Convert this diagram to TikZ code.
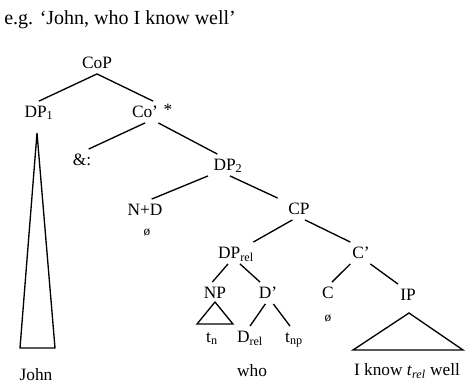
\documentclass[tikz,border=0pt]{standalone}
\usepackage{fontspec}
\setmainfont{Liberation Serif}
\usetikzlibrary{positioning}
\tikzset{
  lab/.style={font=\fontsize{13}{15}\selectfont, inner sep=3pt, text height=9pt, text depth=1pt},
  word/.style={font=\fontsize{13}{15}\selectfont, inner sep=1pt},
  nulllab/.style={font=\fontsize{10}{12}\selectfont, inner sep=1pt},
  branch/.style={line width=1pt, draw=black},
}

\begin{document}
\begin{tikzpicture}[x=0.75pt,y=-0.75pt]
\path[use as bounding box] (0,0) rectangle (467,383);

% title
\node[anchor=west,inner sep=0pt,font=\fontsize{15}{18}\selectfont] (title) at (4,20) {e.g. ‘John, who I know well’};

% upper tree
\node[lab] (cop) at (97,63) {CoP};
\node[lab] (dp1) at (39,112) {DP\textsubscript{1}};
\node[lab] (co) at (145,112) {Co’};
\node[lab,inner sep=0pt] (star) at (168,110) {*};
\node[lab] (amp) at (82,160) {\&:};
\node[lab] (dp2) at (228,165) {DP\textsubscript{2}};
\node[lab] (nd) at (145,210) {N+D};
\node[nulllab] (nullnd) at (147,232) {ø};
\node[lab] (cp) at (299,209) {CP};

\draw[branch] (cop.south) -- (dp1.north);
\draw[branch] (cop.south) -- ([xshift=6pt]co.north);
\draw[branch] (co.south) -- ([xshift=5pt]amp.north);
\draw[branch] ([xshift=10pt]co.south) -- ([xshift=-8pt]dp2.north);
\draw[branch] ([xshift=-15pt]dp2.south) -- ([xshift=5pt]nd.north);
\draw[branch] ([xshift=1.5pt]dp2.south) -- ([xshift=-16pt]cp.north);

% relative clause
\node[lab] (dprel) at (236,253) {DP\textsubscript{rel}};
\node[lab] (cbar) at (361,253) {C’};
\node[lab] (np) at (215,293) {NP};
\node[lab] (dbar) at (268,293) {D’};
\node[lab] (c) at (328,293) {C};
\node[nulllab] (nullc) at (328,318) {ø};
\node[lab] (ip) at (408,295) {IP};
\node[lab] (tn) at (212,337) {t\textsubscript{n}};
\node[lab] (drel) at (250,337) {D\textsubscript{rel}};
\node[lab] (tnp) at (294,337) {t\textsubscript{np}};

\draw[branch] ([xshift=-5pt]cp.south) -- ([xshift=13pt]dprel.north);
\draw[branch] ([xshift=4.5pt]cp.south) -- ([xshift=-8pt]cbar.north);
\draw[branch] ([xshift=-6pt]dprel.south) -- ([xshift=-2pt]np.north);
\draw[branch] ([xshift=3pt]dprel.south) -- ([xshift=-6pt]dbar.north);
\draw[branch] ([xshift=-2pt]dbar.south) -- (drel.north);
\draw[branch] ([xshift=4pt]dbar.south) -- ([xshift=-3pt]tnp.north);
\draw[branch] ([xshift=-8pt]cbar.south) -- ([xshift=3pt]c.north);
\draw[branch] ([xshift=7pt]cbar.south) -- ([xshift=-7.5pt]ip.north);

% triangles
\draw[branch,line join=miter] (37,133) -- (55,348) -- (20,348) -- cycle;
\draw[branch] (215,302) -- (233,324) -- (197,324) -- cycle;
\draw[branch] (409,313) -- (463,350) -- (353,350) -- cycle;

% words
\node[word] (john) at (36,375) {John};
\node[word] (who) at (252,371) {who};
\node[word] (iknow) at (407,371) {I know \textit{t}\textsubscript{\textit{rel}} well};
\end{tikzpicture}
\end{document}
